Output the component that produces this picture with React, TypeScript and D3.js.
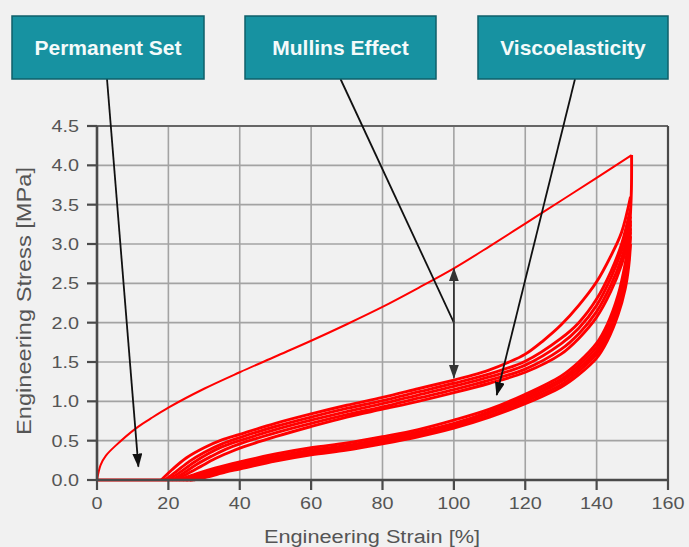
import React from "react";
import * as d3 from "d3";

const xTicks = [0, 20, 40, 60, 80, 100, 120, 140, 160];
const yTicks = [0, 0.5, 1, 1.5, 2, 2.5, 3, 3.5, 4, 4.5];

// virgin (first) loading curve [strain %, stress MPa]
const virginLoading: [number, number][] = [
  [0, 0], [1, 0.19], [2.5, 0.31], [5.3, 0.44], [11, 0.66], [15, 0.78], [20, 0.92], [30, 1.16],
  [40, 1.37], [50, 1.57], [60, 1.77], [70, 1.98], [80, 2.2], [90, 2.44], [100, 2.69], [110, 2.97],
  [120, 3.26], [130, 3.55], [140, 3.84], [149.8, 4.13],
];

// unloading curves (lower band)
const unload1: [number, number][] = [
  [149.8, 4.13], [149.75, 3.7], [149.5, 3.4], [149, 3.05], [148, 2.75], [146, 2.35], [143, 1.98],
  [140, 1.74], [135, 1.5], [130, 1.32], [120, 1.09], [110, 0.9], [100, 0.76], [90, 0.64],
  [80, 0.55], [70, 0.47], [60, 0.41], [50, 0.33], [40, 0.23], [33, 0.15], [28, 0.08], [23, 0],
];
const unload2: [number, number][] = [
  [149.5, 3.3], [149, 2.95], [148, 2.66], [146, 2.28], [143, 1.92], [140, 1.69], [135, 1.46],
  [130, 1.28], [120, 1.06], [110, 0.87], [100, 0.72], [90, 0.61], [80, 0.52], [70, 0.44],
  [60, 0.38], [50, 0.3], [40, 0.2], [33, 0.13], [28, 0.06], [24, 0],
];
const unload3: [number, number][] = [
  [149.5, 3.2], [149, 2.88], [148, 2.58], [146, 2.22], [143, 1.87], [140, 1.64], [135, 1.42],
  [130, 1.25], [120, 1.03], [110, 0.85], [100, 0.7], [90, 0.59], [80, 0.5], [70, 0.42],
  [60, 0.36], [50, 0.28], [40, 0.18], [34, 0.12], [29, 0.05], [25, 0],
];
const unload4: [number, number][] = [
  [149.5, 3.1], [149, 2.8], [148, 2.5], [146, 2.16], [143, 1.82], [140, 1.6], [135, 1.38],
  [130, 1.21], [120, 1.0], [110, 0.82], [100, 0.68], [90, 0.57], [80, 0.48], [70, 0.4],
  [60, 0.34], [50, 0.26], [40, 0.16], [35, 0.11], [30, 0.04], [26, 0],
];
const unload5: [number, number][] = [
  [149.5, 3.0], [149, 2.72], [148, 2.43], [146, 2.1], [143, 1.77], [140, 1.55], [135, 1.34],
  [130, 1.18], [120, 0.97], [110, 0.8], [100, 0.66], [90, 0.55], [80, 0.46], [70, 0.38],
  [60, 0.32], [50, 0.24], [40, 0.14], [36, 0.1], [31, 0.04], [27, 0],
];

// reloading curves (upper band)
const reload1: [number, number][] = [
  [18, 0], [21, 0.13], [25, 0.28], [30, 0.41], [35, 0.51], [40, 0.58], [50, 0.72], [60, 0.84],
  [70, 0.95], [80, 1.05], [90, 1.16], [100, 1.27], [105, 1.33], [110, 1.4], [115, 1.49],
  [120, 1.6], [125, 1.77], [130, 1.97], [135, 2.22], [140, 2.52], [144, 2.85], [147, 3.15], [149.5, 3.6],
];
const reload2: [number, number][] = [
  [19, 0], [22, 0.1], [26, 0.24], [30, 0.35], [35, 0.46], [40, 0.54], [50, 0.68], [60, 0.8],
  [70, 0.91], [80, 1.01], [90, 1.12], [100, 1.23], [110, 1.35], [120, 1.51], [130, 1.8],
  [135, 2.0], [140, 2.3], [144, 2.65], [147, 3.0], [149.5, 3.45],
];
const reload3: [number, number][] = [
  [20, 0], [23, 0.09], [27, 0.22], [31, 0.33], [35, 0.42], [40, 0.5], [50, 0.64], [60, 0.76],
  [70, 0.87], [80, 0.97], [90, 1.08], [100, 1.19], [110, 1.31], [120, 1.46], [130, 1.73],
  [135, 1.93], [140, 2.22], [144, 2.57], [147, 2.92], [149.5, 3.35],
];
const reload4: [number, number][] = [
  [21, 0], [24, 0.08], [28, 0.2], [32, 0.3], [36, 0.39], [40, 0.46], [50, 0.6], [60, 0.72],
  [70, 0.83], [80, 0.93], [90, 1.04], [100, 1.15], [110, 1.27], [120, 1.41], [130, 1.66],
  [135, 1.86], [140, 2.14], [144, 2.48], [147, 2.82], [149.5, 3.25],
];
const reload5: [number, number][] = [
  [22, 0], [25, 0.07], [29, 0.17], [33, 0.27], [37, 0.35], [41, 0.42], [50, 0.55], [60, 0.68],
  [70, 0.8], [80, 0.9], [90, 1.0], [100, 1.11], [110, 1.23], [120, 1.37], [130, 1.6],
  [135, 1.8], [140, 2.07], [144, 2.4], [147, 2.74], [149.5, 3.15],
];

// strain returning to zero at zero stress
const baseline: [number, number][] = [[0, 0], [27, 0]];

const curves = [baseline, virginLoading, unload1, unload2, unload3, unload4, unload5, reload1, reload2, reload3, reload4, reload5];

const labels = ["Permanent Set", "Mullins Effect", "Viscoelasticity"];
// annotation targets in data units: [strain, stress]
const permanentSetTarget: [number, number] = [11.6, 0.17];
const mullinsJoint: [number, number] = [100, 2.0];
const mullinsUp: [number, number] = [100, 2.69];
const mullinsDown: [number, number] = [100, 1.3];
const viscoTarget: [number, number] = [112, 1.08];

export default function App() {
  const W = 689, H = 547;
  const x = d3.scaleLinear().domain([0, 160]).range([97, 668]);
  const y = d3.scaleLinear().domain([0, 4.5]).range([480, 126]);
  const line = d3.line<[number, number]>().x(d => x(d[0])).y(d => y(d[1])).curve(d3.curveCatmullRom.alpha(0.5));

  const boxes = [
    { x0: 12, x1: 204 },
    { x0: 245, x1: 436 },
    { x0: 478, x1: 668 },
  ];
  const boxTop = 16, boxBot = 79;
  const font = "'Liberation Sans', Arial, sans-serif";
  const axisCol = "#4a4a4a";
  const gridCol = "#a3a3a3";
  const tickText = "#555";

  return (
    <svg width={W} height={H} style={{ position: "absolute", left: 0, top: 0, background: "#f1f1f1" }}>
      <defs>
        <marker id="ah" viewBox="0 0 14 10" refX="13" refY="5" markerWidth="14" markerHeight="10" markerUnits="userSpaceOnUse" orient="auto">
          <path d="M0,0 L14,5 L0,10 z" fill="#111" />
        </marker>
        <marker id="ah2" viewBox="0 0 14 10" refX="13" refY="5" markerWidth="14" markerHeight="10" markerUnits="userSpaceOnUse" orient="auto">
          <path d="M0,0 L14,5 L0,10 z" fill="#333" />
        </marker>
      </defs>
      <rect x={0} y={0} width={W} height={H} fill="#f1f1f1" />
      {/* grid */}
      {xTicks.map(t => (
        <line key={"gx" + t} x1={x(t)} x2={x(t)} y1={y(4.5)} y2={y(0)} stroke={gridCol} strokeWidth={1.6} />
      ))}
      {yTicks.map(t => (
        <line key={"gy" + t} x1={x(0)} x2={x(160)} y1={y(t)} y2={y(t)} stroke={gridCol} strokeWidth={1.6} />
      ))}
      {/* frame */}
      <line x1={x(0)} x2={x(160)} y1={y(4.5)} y2={y(4.5)} stroke="#666" strokeWidth={2} />
      <line x1={x(160)} x2={x(160)} y1={y(4.5)} y2={y(0)} stroke={axisCol} strokeWidth={2.2} />
      {/* curves */}
      {curves.map((c, i) => (
        <path key={"c" + i} d={line(c) || ""} fill="none" stroke="#ff0000" strokeWidth={i === 1 ? 2 : 2.9} strokeLinejoin="round" />
      ))}
      {/* axes */}
      <line x1={x(0)} x2={x(160)} y1={y(0)} y2={y(0)} stroke={axisCol} strokeWidth={2.6} />
      <line x1={x(0)} x2={x(0)} y1={y(4.5)} y2={y(0)} stroke={axisCol} strokeWidth={2.6} />
      {xTicks.map(t => (
        <g key={"xt" + t}>
          <line x1={x(t)} x2={x(t)} y1={y(0)} y2={y(0) + 10} stroke={axisCol} strokeWidth={2.2} />
          <text transform={`translate(${x(t)},${y(0) + 29}) scale(1.2,1)`} textAnchor="middle" fontFamily={font} fontSize={16.5} fill={tickText}>{t}</text>
        </g>
      ))}
      {yTicks.map(t => (
        <g key={"yt" + t}>
          <line x1={x(0) - 10} x2={x(0)} y1={y(t)} y2={y(t)} stroke={axisCol} strokeWidth={2.2} />
          <text transform={`translate(${x(0) - 18},${y(t) + 6}) scale(1.2,1)`} textAnchor="end" fontFamily={font} fontSize={16.5} fill={tickText}>{d3.format(".1f")(t)}</text>
        </g>
      ))}
      <text x={372} y={543} textAnchor="middle" fontFamily={font} fontSize={18} fill={tickText} textLength={216} lengthAdjust="spacingAndGlyphs">Engineering Strain [%]</text>
      <text transform="translate(31,301) rotate(-90)" textAnchor="middle" fontFamily={font} fontSize={20} fill={tickText} textLength={268} lengthAdjust="spacingAndGlyphs">Engineering Stress [MPa]</text>

      {/* annotations */}
      <line x1={107} y1={boxBot} x2={x(permanentSetTarget[0])} y2={y(permanentSetTarget[1])} stroke="#111" strokeWidth={1.8} markerEnd="url(#ah)" />
      <line x1={340.5} y1={boxBot} x2={x(mullinsJoint[0])} y2={y(mullinsJoint[1])} stroke="#111" strokeWidth={1.8} />
      <line x1={x(mullinsJoint[0])} y1={y(mullinsJoint[1])} x2={x(mullinsUp[0])} y2={y(mullinsUp[1])} stroke="#333" strokeWidth={1.8} markerEnd="url(#ah2)" />
      <line x1={x(mullinsJoint[0])} y1={y(mullinsJoint[1])} x2={x(mullinsDown[0])} y2={y(mullinsDown[1])} stroke="#333" strokeWidth={1.8} markerEnd="url(#ah2)" />
      <line x1={575} y1={boxBot} x2={x(viscoTarget[0])} y2={y(viscoTarget[1])} stroke="#111" strokeWidth={1.8} markerEnd="url(#ah)" />

      {/* label boxes */}
      {labels.map((l, i) => (
        <g key={l}>
          <rect x={boxes[i].x0} y={boxTop} width={boxes[i].x1 - boxes[i].x0} height={boxBot - boxTop} fill="#1792a1" stroke="#0f5f6a" strokeWidth={1.5} />
          <text x={(boxes[i].x0 + boxes[i].x1) / 2} y={55} textAnchor="middle" fontFamily={font} fontWeight="bold" fontSize={21} fill="#f4fafa">{l}</text>
        </g>
      ))}
    </svg>
  );
}
